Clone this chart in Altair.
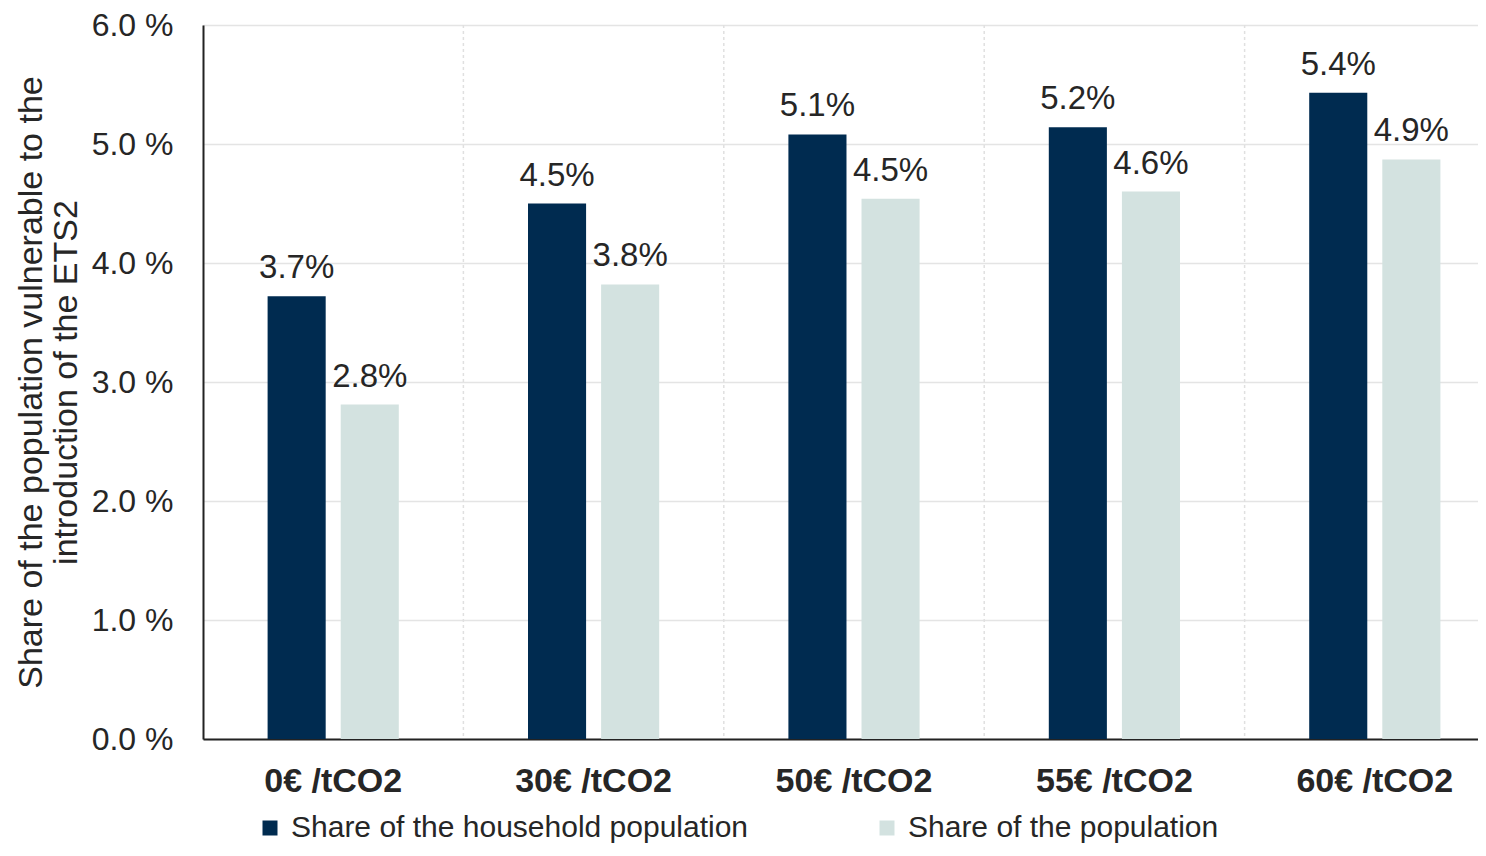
import altair as alt
import pandas as pd

categories = ["0€ /tCO2", "30€ /tCO2", "50€ /tCO2", "55€ /tCO2", "60€ /tCO2"]
series = ["Share of the household population", "Share of the population"]
household = [3.72, 4.50, 5.08, 5.14, 5.43]
population = [2.81, 3.82, 4.54, 4.60, 4.87]
household_labels = ["3.7%", "4.5%", "5.1%", "5.2%", "5.4%"]
population_labels = ["2.8%", "3.8%", "4.5%", "4.6%", "4.9%"]
y_ticks = [0, 1, 2, 3, 4, 5, 6]
colors = ["#002B50", "#D3E2E0"]

rows = []
for c, v, l in zip(categories, household, household_labels):
    rows.append({"cat": c, "series": series[0], "value": v, "label": l})
for c, v, l in zip(categories, population, population_labels):
    rows.append({"cat": c, "series": series[1], "value": v, "label": l})
df = pd.DataFrame(rows)
df_rules = pd.DataFrame({"cat": categories[1:]})

FONT = "Liberation Sans"
TXT = "#262626"

# the original figure is cropped on the right: the last band runs past the image edge
xscale = alt.Scale(domain=categories, paddingInner=0, paddingOuter=0, range=[0, 1302])
xoff_scale = alt.Scale(domain=series, paddingInner=0.2055, paddingOuter=0.8836)
yscale = alt.Scale(domain=[0, 6], nice=False, zero=True)

x_axis = alt.Axis(
    labelAngle=0, labelFontSize=34, labelFontWeight="bold", labelColor=TXT,
    labelPadding=25, ticks=False, grid=False, domain=True, bandPosition=0.5,
    domainColor="#222222", domainWidth=2, labelFont=FONT,
)

x_enc = alt.X("cat:N", scale=xscale, sort=categories, title=None, axis=x_axis)

y_enc = alt.Y(
    "value:Q", scale=yscale,
    axis=alt.Axis(
        values=y_ticks,
        labelExpr="format(datum.value, '.1f') + ' %'",
        labelFontSize=32, labelColor=TXT, labelPadding=30, labelFont=FONT,
        ticks=False, grid=True, gridColor="#E4E4E4", gridWidth=1.5,
        domain=True, domainColor="#222222", domainWidth=2,
        title=["Share of the population vulnerable to the", "introduction of the ETS2"],
        titleFontSize=34, titleFontWeight="normal", titleColor=TXT, titleFont=FONT,
        titleAngle=-90, titleAlign="center", titleBaseline="top",
        titleX=-189, titleY=357, titleLineHeight=35,
    ),
)

bars = alt.Chart(df).mark_bar().encode(
    x=x_enc,
    xOffset=alt.XOffset("series:N", scale=xoff_scale, sort=series),
    y=y_enc,
    color=alt.Color(
        "series:N", sort=series,
        scale=alt.Scale(domain=series, range=colors),
        legend=alt.Legend(
            orient="none", legendX=52, legendY=788, direction="horizontal",
            title=None, symbolType="square", symbolSize=225, symbolStrokeWidth=0,
            labelFontSize=30, labelColor=TXT, labelFont=FONT, labelOffset=6,
            columnPadding=123, padding=0, labelLimit=1000,
        ),
    ),
)

rules = alt.Chart(df_rules).mark_rule(
    color="#E0E0E0", strokeWidth=1.5, strokeDash=[3, 3]
).encode(x=alt.X("cat:N", scale=xscale, sort=categories, bandPosition=0, title=None, axis=x_axis))

text = alt.Chart(df).mark_text(
    baseline="alphabetic", dy=-18, fontSize=33, color=TXT, font=FONT
).encode(
    x=alt.X("cat:N", scale=xscale, sort=categories, title=None, axis=x_axis),
    xOffset=alt.XOffset("series:N", scale=xoff_scale, sort=series),
    y=alt.Y("value:Q", scale=yscale),
    text="label:N",
)

chart = alt.layer(bars, rules, text).properties(
    width=1275, height=714,
    autosize=alt.AutoSizeParams(type="none"),
    padding={"left": 195, "top": 17, "right": 0, "bottom": 105},
).configure_view(stroke=None).configure(font=FONT)

chart.save("out.html", embed_options={"renderer": "svg", "actions": False})
